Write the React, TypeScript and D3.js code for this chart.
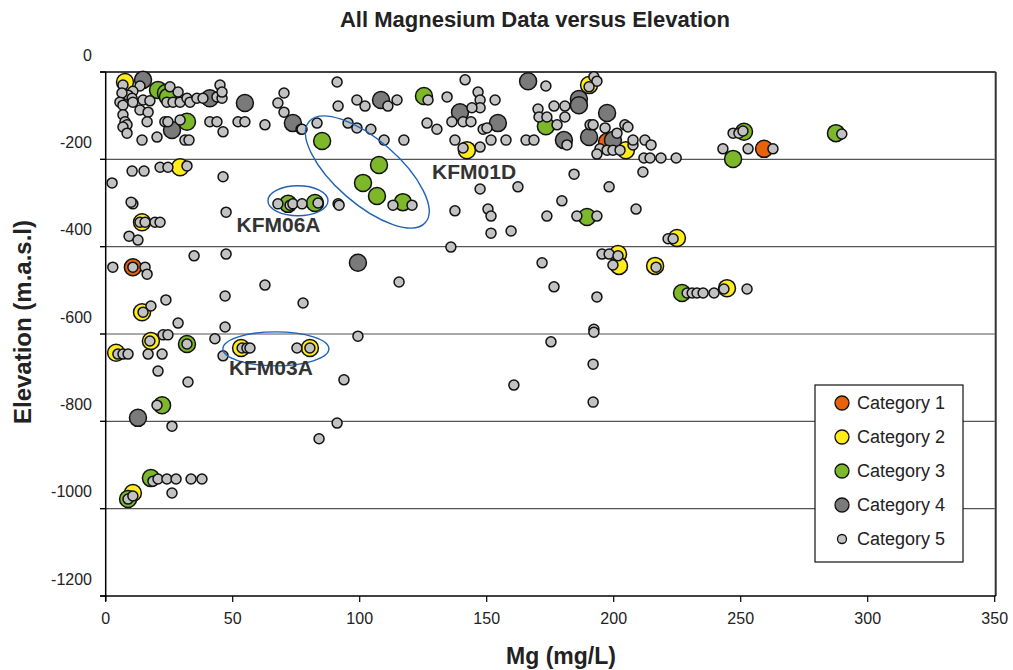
import React from "react";
import * as d3 from "d3";

// ---- data (Mg mg/L, elevation m.a.s.l) ----
const category1: [number, number][] = [[197.4, -160], [259.2, -176], [10.7, -447]];

const category2: [number, number][] = [
  [7.6, -23], [190.3, -30], [142.2, -179], [204.8, -179], [29.3, -218], [14.3, -344],
  [224.9, -380], [201.7, -417], [202.1, -444], [216.3, -444], [244.6, -495], [14.3, -550],
  [17.8, -616], [4.1, -643], [53.3, -632], [80.4, -632], [10.7, -964],
];

const category3: [number, number][] = [
  [20.6, -41], [23.7, -48], [24.5, -57], [32.0, -114], [125.3, -55], [173.3, -124],
  [85.2, -158], [107.6, -213], [101.3, -254], [106.8, -284], [117.0, -298], [71.8, -302],
  [82.4, -300], [189.5, -332], [251.3, -137], [247.0, -199], [287.5, -140], [226.9, -506],
  [32.0, -623], [22.2, -763], [17.8, -930], [8.8, -978],
];

const category4: [number, number][] = [
  [14.7, -18], [41.0, -60], [54.8, -71], [26.1, -133], [73.7, -117], [108.4, -64],
  [139.5, -92], [154.4, -117], [166.3, -21], [186.3, -62], [186.3, -76], [197.4, -94],
  [180.4, -156], [190.3, -149], [199.7, -156], [99.3, -437], [12.7, -792],
];

const category5: [number, number][] = [
  [6.8, -30], [13.5, -32], [10.7, -44], [8.8, -53], [6.4, -48], [5.6, -69], [6.8, -76],
  [10.4, -60], [10.7, -69], [14.7, -64], [17.4, -66], [13.5, -87], [16.7, -92], [6.8, -98],
  [25.3, -34], [28.5, -46], [24.1, -69], [26.5, -69], [29.3, -69], [32.0, -60], [33.2, -69],
  [35.9, -60], [38.3, -60], [43.8, -57], [45.8, -60], [45.0, -30], [45.8, -46], [70.2, -48],
  [67.8, -71], [70.2, -92], [76.9, -131], [7.6, -114], [8.4, -121], [6.8, -126], [8.4, -140],
  [16.3, -114], [23.3, -114], [24.5, -114], [29.3, -110], [41.0, -114], [43.8, -114],
  [52.1, -114], [54.8, -114], [62.7, -121], [46.2, -137], [14.3, -156], [20.2, -149],
  [31.2, -156], [32.8, -156], [10.4, -227], [15.1, -227], [21.4, -218], [24.5, -218],
  [32.0, -215], [2.5, -254], [46.2, -240],
  [91.1, -23], [141.5, -18], [98.9, -64], [102.1, -78], [111.1, -78], [114.7, -64], [91.5, -78],
  [126.9, -64], [134.4, -57], [146.6, -46], [147.4, -64], [153.3, -64], [147.4, -82], [144.2, -82],
  [136.3, -114], [140.7, -114], [143.8, -114], [148.6, -131], [150.1, -128], [126.5, -117],
  [130.4, -131], [95.4, -117], [98.9, -128], [104.4, -131], [83.2, -117], [77.3, -131],
  [109.6, -156], [117.4, -156], [137.5, -156], [140.7, -174], [147.4, -172], [151.7, -156],
  [157.6, -156], [165.5, -156],
  [173.3, -32], [192.2, -11], [193.4, -21], [190.3, -34], [170.2, -85], [176.5, -78], [180.8, -78],
  [170.6, -103], [173.7, -103], [180.8, -103], [177.7, -121], [168.6, -156], [181.6, -167],
  [190.7, -121], [191.9, -121], [196.6, -128], [204.4, -121], [205.6, -126], [201.3, -140],
  [194.6, -176], [197.4, -179], [199.7, -179], [202.5, -179], [193.4, -188], [207.6, -167],
  [207.6, -156], [212.3, -156], [214.7, -167], [211.9, -197], [214.3, -197], [218.6, -197],
  [224.6, -197], [184.4, -234], [211.5, -229], [162.3, -263], [198.2, -263], [247.0, -140],
  [249.3, -140], [250.9, -135], [243.0, -176], [252.9, -176], [262.7, -176], [289.8, -142],
  [10.7, -302], [10.0, -298], [13.5, -344], [15.5, -344], [19.4, -344], [21.4, -344], [9.2, -376],
  [12.7, -385], [47.4, -321], [67.8, -302], [72.6, -305], [73.7, -302], [77.3, -302], [83.6, -300],
  [91.5, -302], [2.8, -447], [10.7, -447], [15.5, -447], [16.3, -463], [34.8, -421], [47.4, -417],
  [62.7, -488], [77.7, -529], [47.0, -513], [23.7, -522], [17.8, -536], [14.7, -550],
  [91.9, -305], [113.1, -305], [120.6, -305], [137.5, -318], [147.4, -268], [150.5, -314],
  [151.7, -330], [151.7, -369], [159.6, -364], [179.6, -295], [173.7, -330], [185.5, -330],
  [193.4, -330], [135.9, -401], [115.5, -481], [171.8, -437], [176.5, -492], [193.4, -515],
  [195.4, -417], [198.2, -417], [199.7, -442],
  [208.8, -314], [221.4, -382], [223.4, -382], [201.7, -421], [216.7, -447], [228.9, -506],
  [230.9, -506], [232.8, -506], [235.2, -506], [239.5, -506], [243.4, -497], [252.5, -497],
  [192.2, -589],
  [28.5, -575], [47.0, -584], [22.6, -602], [24.5, -602], [17.4, -616], [43.0, -611], [4.8, -646],
  [6.8, -646], [8.8, -646], [16.7, -646], [22.2, -646], [46.2, -650], [53.7, -632], [55.6, -632],
  [56.8, -632], [75.3, -632], [80.4, -632], [32.0, -623], [20.6, -685], [32.4, -710], [93.8, -705],
  [20.2, -763], [26.1, -811], [91.1, -804], [84.0, -840],
  [99.3, -605], [175.3, -618], [192.2, -596], [191.9, -669], [191.9, -756], [160.7, -717],
  [18.6, -937], [20.6, -932], [24.1, -932], [27.7, -932], [33.6, -932], [37.9, -932], [26.1, -964],
  [8.8, -978], [10.7, -971],
];

const categoryNames = ["Category 1", "Category 2", "Category 3", "Category 4", "Category 5"];
const xTicks = [0, 50, 100, 150, 200, 250, 300, 350];
const yTicks = [0, -200, -400, -600, -800, -1000, -1200];

// annotation groups: label, centre (Mg, elevation), label anchor (Mg, elevation)
const groupNames = ["KFM01D", "KFM06A", "KFM03A"];
const groupCentres: [number, number][] = [[103, -229], [75.7, -295], [67, -634]];
const groupLabelPos: [number, number][] = [[128.5, -245], [51.5, -367], [48.5, -695]];

const colors = ["#e8620c", "#ffec1a", "#7db72a", "#7a7a7a", "#c2c2c2"];

export default function App() {
  const W = 1013, H = 670;
  const x = d3.scaleLinear().domain([0, 350]).range([105.7, 994.7]);
  const y = d3.scaleLinear().domain([-1200, 0]).range([596, 72]);
  const font = "Arial, 'Liberation Sans', sans-serif";
  const series = [category1, category2, category3, category4, category5];
  const radii = [8.5, 8.5, 8.5, 8.5, 5];
  const ellipseShape = [
    { rx: 77, ry: 32, rot: 41 },
    { rx: 30, ry: 15, rot: 0 },
    { rx: 53, ry: 17, rot: 0 },
  ];

  return (
    <svg width={W} height={H} style={{ position: "absolute", left: 0, top: 0, background: "#fff" }} fontFamily={font}>
      <rect x={0} y={0} width={W} height={H} fill="#fff" />
      <text x={535} y={27} textAnchor="middle" fontSize={22} fontWeight="bold" fill="#222">
        All Magnesium Data versus Elevation
      </text>

      {/* gridlines */}
      {yTicks.filter((t) => t !== 0 && t !== -1200).map((t) => (
        <line key={"g" + t} x1={100} x2={x(350)} y1={y(t)} y2={y(t)} stroke="#555" strokeWidth={1.2} />
      ))}
      {/* plot frame */}
      <line x1={100} x2={x(350) + 1} y1={y(0)} y2={y(0)} stroke="#000" strokeWidth={1.5} />
      <line x1={x(350) + 1} x2={x(350) + 1} y1={y(0)} y2={y(-1200)} stroke="#333" strokeWidth={2} />
      <line x1={x(0)} x2={x(0)} y1={y(0)} y2={y(-1200) + 5} stroke="#000" strokeWidth={1.5} />
      <line x1={100} x2={x(350) + 1} y1={y(-1200)} y2={y(-1200)} stroke="#000" strokeWidth={1.5} />
      {yTicks.map((t) => (
        <g key={"yt" + t}>
          <line x1={100} x2={x(0)} y1={y(t)} y2={y(t)} stroke="#000" strokeWidth={1.2} />
          <text x={92} y={y(t) - 17} textAnchor="end" dominantBaseline="central" fontSize={16} fill="#222">
            {t}
          </text>
        </g>
      ))}
      {xTicks.map((t) => (
        <g key={"xt" + t}>
          <line x1={x(t)} x2={x(t)} y1={y(-1200)} y2={y(-1200) + 6} stroke="#000" strokeWidth={1.2} />
          <text x={x(t)} y={618} textAnchor="middle" dominantBaseline="central" fontSize={16} fill="#222">
            {t}
          </text>
        </g>
      ))}

      {/* axis titles */}
      <text x={561} y={656} textAnchor="middle" dominantBaseline="central" fontSize={23} fontWeight="bold" fill="#222">
        Mg (mg/L)
      </text>
      <text
        transform={`translate(22,322) rotate(-90)`}
        textAnchor="middle"
        dominantBaseline="central"
        fontSize={24}
        fontWeight="bold"
        fill="#222"
      >
        Elevation (m.a.s.l)
      </text>

      {/* points */}
      {series.map((s, i) => (
        <g key={"s" + i}>
          {s.map((d, j) => (
            <circle key={j} cx={x(d[0])} cy={y(d[1])} r={radii[i]} fill={colors[i]} stroke="#111" strokeWidth={1.5} />
          ))}
        </g>
      ))}

      {/* annotations */}
      {groupNames.map((name, i) => (
        <g key={name}>
          <ellipse
            cx={0}
            cy={0}
            rx={ellipseShape[i].rx}
            ry={ellipseShape[i].ry}
            transform={`translate(${x(groupCentres[i][0])},${y(groupCentres[i][1])}) rotate(${ellipseShape[i].rot})`}
            fill="none"
            stroke="#1f62b8"
            strokeWidth={1.4}
          />
          <text x={x(groupLabelPos[i][0])} y={y(groupLabelPos[i][1])} fontSize={21} fontWeight="bold" fill="#333">
            {name}
          </text>
        </g>
      ))}

      {/* legend */}
      <rect x={815} y={385} width={148} height={177} fill="#fff" stroke="#111" strokeWidth={1.2} />
      {categoryNames.map((n, i) => (
        <g key={n}>
          <circle cx={842} cy={403 + i * 34} r={i === 4 ? 4.5 : 7} fill={colors[i]} stroke="#111" strokeWidth={1.3} />
          <text x={857} y={403 + i * 34} dominantBaseline="central" fontSize={18} fill="#222">
            {n}
          </text>
        </g>
      ))}
    </svg>
  );
}
